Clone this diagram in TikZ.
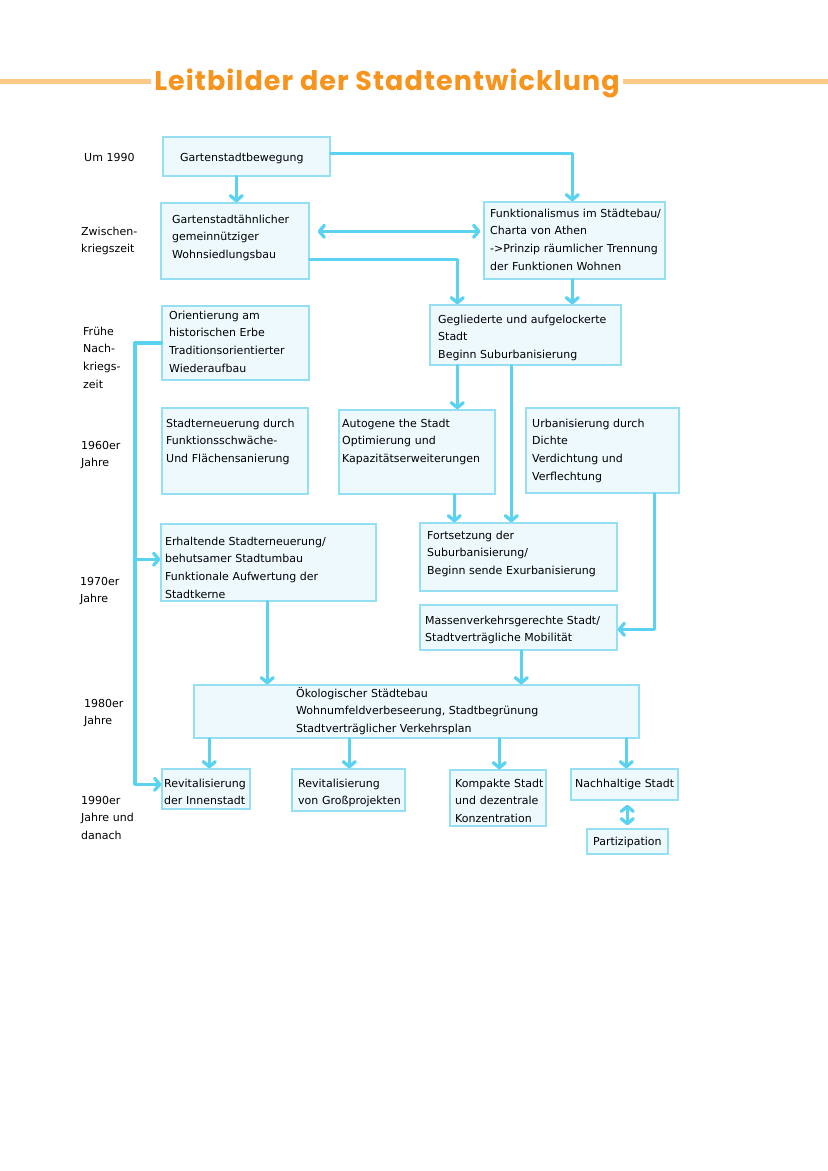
\documentclass[tikz,border=0pt]{standalone}
\usepackage{fontspec}
\setmainfont{DejaVu Sans}
\newfontfamily\titlefont[LetterSpace=4]{Poppins}
\usetikzlibrary{arrows.meta,calc}
\definecolor{arrcol}{HTML}{5AD2F0}
\definecolor{boxfill}{HTML}{EDF9FD}
\definecolor{boxline}{HTML}{94DFF1}
\definecolor{titlecol}{HTML}{F7941E}
\definecolor{titleline}{HTML}{FCC88A}
\begin{document}
\begin{tikzpicture}[x=1pt,y=-1pt,
  boxnode/.style={draw=boxline,fill=boxfill,line width=1.4pt,inner sep=0pt},
  txt/.style={anchor=base west,inner sep=0pt,text width=260pt,align=left,
    font=\fontsize{11}{17.8}\selectfont},
  lbl/.style={anchor=base west,inner sep=0pt,text width=80pt,align=left,
    font=\fontsize{11}{17.8}\selectfont},
  conn/.style={draw=arrcol,line width=3.3pt,line cap=round,line join=round,
    -{Straight Barb[length=5pt,width=12pt,line cap=round,line join=round]}},
  dconn/.style={conn,{Straight Barb[length=5pt,width=12pt,line cap=round,line join=round]}-{Straight Barb[length=5pt,width=12pt,line cap=round,line join=round]}},
  plain/.style={draw=arrcol,line width=3.3pt,line cap=round,line join=round}
]
\useasboundingbox[fill=white] (0,0) rectangle (828,1171);

% title
\node[inner sep=0pt,anchor=base,text=titlecol,font=\titlefont\bfseries\fontsize{27}{30}\selectfont] (title) at (387,90) {Leitbilder der Stadtentwicklung};
\coordinate (tl) at (0,81);
\coordinate (tr) at (828,81);
\draw[titleline,line width=5pt] (tl) -- ([xshift=-3pt]title.west |- tl);
\draw[titleline,line width=5pt] ([xshift=3pt]title.east |- tr) -- (tr);

% boxes: corners (x1,y1)-(x2,y2)
\newcommand\mybox[5]{\node[boxnode,minimum width=#4-#2,minimum height=#5-#3] (#1) at ({(#2+#4)/2},{(#3+#5)/2}) {};}
\mybox{b1}{163}{137}{330}{176}
\mybox{b2}{161}{203}{309}{279}
\mybox{b3}{484}{202}{665}{279}
\mybox{b4}{162}{306}{309}{380}
\mybox{b5}{430}{305}{621}{365}
\mybox{b6}{162}{408}{308}{494}
\mybox{b7}{339}{410}{495}{494}
\mybox{b8}{526}{408}{679}{493}
\mybox{b9}{161}{524}{376}{601}
\mybox{b10}{420}{523}{617}{591}
\mybox{b11}{420}{605}{617}{650}
\mybox{b12}{194}{685}{639}{738}
\mybox{b13}{162}{769}{250}{809}
\mybox{b14}{292}{769}{405}{811}
\mybox{b15}{450}{770}{546}{826}
\mybox{b16}{571}{769}{678}{800}
\mybox{b17}{587}{829}{668}{854}

% box texts
\node[txt] (t1) at (180,161) {Gartenstadtbewegung};
\node[txt] (t2) at (172,223) {Gartenstadtähnlicher\\gemeinnütziger\\Wohnsiedlungsbau};
\node[txt] (t3) at (490,217) {Funktionalismus im Städtebau/\\Charta von Athen\\->Prinzip räumlicher Trennung\\der Funktionen Wohnen};
\node[txt] (t4) at (169,319) {Orientierung am\\historischen Erbe\\Traditionsorientierter\\Wiederaufbau};
\node[txt] (t5) at (438,323) {Gegliederte und aufgelockerte\\Stadt\\Beginn Suburbanisierung};
\node[txt] (t6) at (166,427) {Stadterneuerung durch\\Funktionsschwäche-\\Und Flächensanierung};
\node[txt] (t7) at (342,427) {Autogene the Stadt\\Optimierung und\\Kapazitätserweiterungen};
\node[txt] (t8) at (532,427) {Urbanisierung durch\\Dichte\\Verdichtung und\\Verflechtung};
\node[txt] (t9) at (165,545) {Erhaltende Stadterneuerung/\\behutsamer Stadtumbau\\Funktionale Aufwertung der\\Stadtkerne};
\node[txt] (t10) at (427,539) {Fortsetzung der\\Suburbanisierung/\\Beginn sende Exurbanisierung};
\node[txt] (t11) at (425,624) {Massenverkehrsgerechte Stadt/\\Stadtverträgliche Mobilität};
\node[txt] (t12) at (296,697) {Ökologischer Städtebau\\Wohnumfeldverbeseerung, Stadtbegrünung\\Stadtverträglicher Verkehrsplan};
\node[txt] (t13) at (164,787) {Revitalisierung\\der Innenstadt};
\node[txt] (t14) at (298,787) {Revitalisierung\\von Großprojekten};
\node[txt] (t15) at (455,787) {Kompakte Stadt\\und dezentrale\\Konzentration};
\node[txt] (t16) at (575,787) {Nachhaltige Stadt};
\node[txt] (t17) at (593,845) {Partizipation};

% period labels
\node[lbl] (l1) at (84,161) {Um 1990};
\node[lbl] (l2) at (81,235) {Zwischen-\\kriegszeit};
\node[lbl] (l3) at (83,335) {Frühe\\Nach-\\kriegs-\\zeit};
\node[lbl] (l4) at (81,449) {1960er\\Jahre};
\node[lbl] (l5) at (80,585) {1970er\\Jahre};
\node[lbl] (l6) at (84,707) {1980er\\Jahre};
\node[lbl] (l7) at (81,804) {1990er\\Jahre und\\danach};

% connectors
\draw[conn] ($(b1.south west)+(74,0)$) -- ($(b2.north west)+(76,0)$);
\draw[conn] ($(b1.north east)+(0,17)$) -| ($(b3.north west)+(89,0)$);
\draw[dconn] ($(b2.north east)+(8,29)$) -- ($(b3.north west)+(-3,30)$);
\draw[conn] ($(b2.north east)+(0,57)$) -| ($(b5.north west)+(28,0)$);
\draw[conn] ($(b3.south west)+(89,0)$) -- ($(b5.north west)+(143,0)$);

\coordinate (bus) at (135,343);
\draw[plain] (b4.west |- bus) -- (bus);
\draw[conn] (bus) |- ($(b13.north west)+(0,16)$);
\draw[conn] ($(b9.north west)+(-26,36)$) -- ($(b9.north west)+(0,36)$);

\draw[conn] ($(b5.south west)+(28,0)$) -- ($(b7.north west)+(119,0)$);
\draw[conn] ($(b5.south west)+(82,0)$) -- ($(b10.north west)+(92,0)$);
\draw[conn] ($(b7.south west)+(116,0)$) -- ($(b10.north west)+(35,0)$);
\draw[conn] ($(b8.south west)+(129,0)$) |- ($(b11.north east)+(0,25)$);
\draw[conn] ($(b9.south west)+(107,0)$) -- ($(b12.north west)+(74,0)$);
\draw[conn] ($(b11.south west)+(102,0)$) -- ($(b12.north west)+(328,0)$);

\draw[conn] ($(b12.south west)+(16,0)$) -- ($(b13.north west)+(48,0)$);
\draw[conn] ($(b12.south west)+(156,0)$) -- ($(b14.north west)+(58,0)$);
\draw[conn] ($(b12.south west)+(306,0)$) -- ($(b15.north west)+(50,0)$);
\draw[conn] ($(b12.south west)+(433,0)$) -- ($(b16.north west)+(56,0)$);
\draw[dconn] ($(b16.south west)+(57,4)$) -- ($(b17.north west)+(41,-3)$);
\end{tikzpicture}
\end{document}
